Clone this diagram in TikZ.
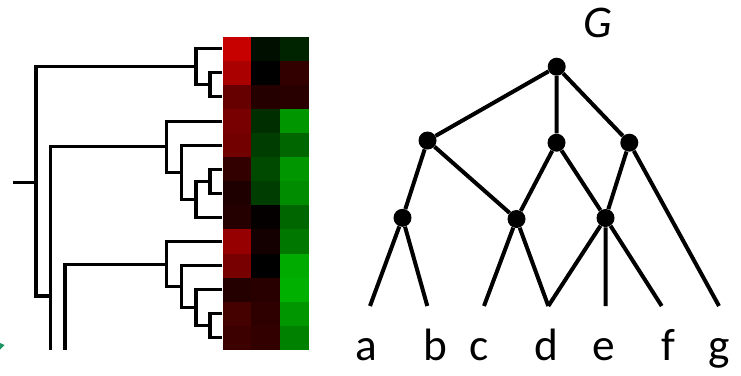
\documentclass[tikz,border=0pt]{standalone}
\usepackage{fontspec}
\setmainfont{Carlito}
\usepackage{tikz}
\usetikzlibrary{positioning, calc}
\definecolor{tipgreen}{RGB}{30, 150, 100}
\tikzstyle{vertex} = [circle, fill=black, inner sep=0pt, minimum size=13.5pt]
\tikzstyle{edge} = [line width=3pt]
\tikzstyle{branch} = [line width=2.3pt]
\tikzstyle{cell} = [rectangle, inner sep=0pt, minimum width=21.5pt, minimum height=18.2pt]
\tikzstyle{leaf} = [anchor=base, font=\fontsize{34}{40}\selectfont]

\begin{document}
\begin{tikzpicture}[x=0.75pt, y=-0.75pt]
    \useasboundingbox (0,0) rectangle (741,375);

    % Heat map
    \foreach \r/\ca/\cb/\cc in {1/red!78!black/green!6!black/green!14!black,
        2/red!67!black/black/red!20!black,
        3/red!40!black/red!14!black/red!16!black,
        4/red!47!black/green!18!black/green!59!black,
        5/red!45!black/green!24!black/green!40!black,
        6/red!20!black/green!29!black/green!59!black,
        7/red!12!black/green!24!black/green!55!black,
        8/red!14!black/red!2!black/green!40!black,
        9/red!59!black/red!8!black/green!47!black,
        10/red!47!black/black/green!67!black,
        11/red!14!black/red!16!black/green!69!black,
        12/red!27!black/red!18!black/green!59!black,
        13/red!24!black/red!20!black/green!51!black}{
        \node[cell, fill=\ca] (c\r-a) at (237, {36.7+24.1*(\r-0.5)}) {};
        \node[cell, fill=\cb] (c\r-b) at (265.6, {36.7+24.1*(\r-0.5)}) {};
        \node[cell, fill=\cc] (c\r-c) at (294.2, {36.7+24.1*(\r-0.5)}) {};
    }

    % Dendrogram
    \coordinate (j23) at (210, 84.9);
    \coordinate (j1) at (196, 66.8);
    \coordinate (j67) at (210, 181.3);
    \coordinate (j8) at (196, 199.4);
    \coordinate (j5) at (181.7, 172.3);
    \coordinate (j4) at (166.7, 146.7);
    \coordinate (j1213) at (210, 325.9);
    \coordinate (j11) at (196, 307.8);
    \coordinate (j10) at (181.7, 286.7);
    \coordinate (j9) at (166.7, 264.1);
    \coordinate (k1) at (36, 66.8);
    \coordinate (k2) at (50.7, 146.7);
    \coordinate (k3) at (65, 264.1);
    \coordinate (k23) at (50.7, 296);
    \coordinate (root) at (36, 182.7);
    \coordinate (stub) at (13.3, 182.7);
    \coordinate (e2) at (50.7, 350);
    \coordinate (e3) at (65, 350);

    \draw[branch] (c2-a.west) -| (j23) |- (c3-a.west);
    \draw[branch] (c1-a.west) -| (j1) |- (j23);
    \draw[branch] (c6-a.west) -| (j67) |- (c7-a.west);
    \draw[branch] (j67) -| (j8) |- (c8-a.west);
    \draw[branch] (c5-a.west) -| (j5) |- (j8);
    \draw[branch] (c4-a.west) -| (j4) |- (j5);
    \draw[branch] (c12-a.west) -| (j1213) |- (c13-a.west);
    \draw[branch] (c11-a.west) -| (j11) |- (j1213);
    \draw[branch] (c10-a.west) -| (j10) |- (j11);
    \draw[branch] (c9-a.west) -| (j9) |- (j10);
    \draw[branch] (j4) -- (k2) -- (e2);
    \draw[branch] (j9) -- (k3) -- (e3);
    \draw[branch] (j1) -- (k1) |- (k23);
    \draw[branch] (stub) -- (root);
    \fill[tipgreen] (0,343) -- (4.5,345) -- (0,349.5) -- cycle;

    % Graph G
    \node[leaf] (title) at (597.7, 37.3) {\textit{G}};
    \node[vertex] (g0) at (556.7, 66.7) {};
    \node[vertex] (g1) at (427.5, 140.5) {};
    \node[vertex] (g2) at (556.5, 142.7) {};
    \node[vertex] (g3) at (629.3, 142.7) {};
    \node[vertex] (g4) at (402.5, 217.8) {};
    \node[vertex] (g5) at (516.5, 219) {};
    \node[vertex] (g6) at (605.5, 218) {};

    \coordinate (la) at (370, 306);
    \coordinate (lb) at (427.3, 306);
    \coordinate (lc) at (484, 306);
    \coordinate (ld) at (548.3, 306);
    \coordinate (le) at (605.7, 306);
    \coordinate (lf) at (661.7, 306);
    \coordinate (lg) at (719, 306);

    \node[leaf] (a) at (366, 360.7) {a};
    \node[leaf] (b) at (435.5, 360.7) {b};
    \node[leaf] (c) at (479, 360.7) {c};
    \node[leaf] (d) at (546, 360.7) {d};
    \node[leaf] (e) at (603.3, 360.7) {e};
    \node[leaf] (f) at (668.3, 360.7) {f};
    \node[leaf] (g) at (719, 360.7) {g};

    % Edges
    \draw[edge] (g1) -- (g0) -- (g3);
    \draw[edge] (g0) -- (g2);
    \draw[edge] (g4) -- (g1) -- (g5);
    \draw[edge] (g5) -- (g2) -- (g6);
    \draw[edge] (g6) -- (g3) -- (lg);
    \draw[edge] (la) -- (g4) -- (lb);
    \draw[edge] (lc) -- (g5) -- (ld);
    \draw[edge] (ld) -- (g6) -- (lf);
    \draw[edge] (g6) -- (le);
\end{tikzpicture}
\end{document}
